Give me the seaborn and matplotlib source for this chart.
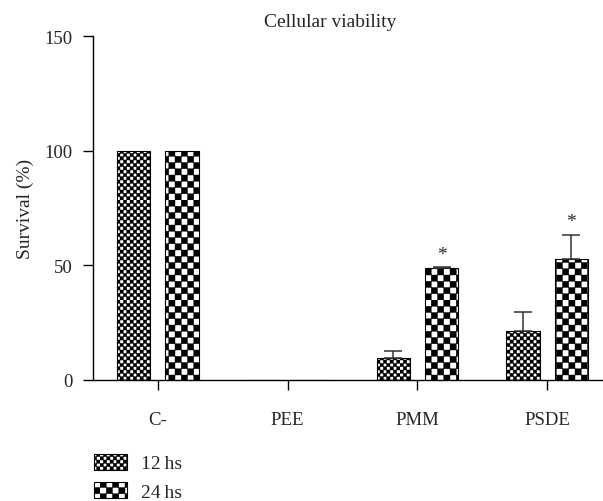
import warnings
warnings.filterwarnings("ignore")
import numpy as np
import pandas as pd
import matplotlib
matplotlib.use("Agg")
import matplotlib.pyplot as plt
import matplotlib.hatch as mhatch
from matplotlib.path import Path
import seaborn as sns

# ---- data ----
categories = ["C-", "PEE", "PMM", "PSDE"]
groups = ["12\u2009hs", "24\u2009hs"]
values_12 = [100, 0, 9.7, 21.5]
errors_12 = [0, 0, 2.9, 8.2]
values_24 = [100, 0, 48.8, 52.8]
errors_24 = [0, 0, 0.6, 10.6]
signif_24 = ["", "", "*", "*"]
y_ticks = [0, 50, 100, 150]
title = "Cellular viability"
ylabel = "Survival (%)"


# ---- custom checkerboard hatch ----
class CheckerHatch(mhatch.HatchPatternBase):
    def __init__(self, hatch, density):
        self.n = hatch.count("c") * 2
        self.num_vertices = (self.n * self.n // 2) * 5 if self.n else 0

    def set_vertices_and_codes(self, vertices, codes):
        n = self.n
        s = 1.0 / n
        k = 0
        for i in range(n):
            for j in range(n):
                if (i + j) % 2 == 0:
                    x0, y0 = i * s, j * s
                    vertices[k:k + 5] = [(x0, y0), (x0 + s, y0), (x0 + s, y0 + s),
                                         (x0, y0 + s), (x0, y0)]
                    codes[k] = Path.MOVETO
                    codes[k + 1:k + 4] = Path.LINETO
                    codes[k + 4] = Path.CLOSEPOLY
                    k += 5


mhatch._hatch_types.append(CheckerHatch)

sns.set_style("ticks")
plt.rcParams["font.family"] = ["Liberation Serif", "DejaVu Serif"]
plt.rcParams["hatch.linewidth"] = 0.3
plt.rcParams["hatch.color"] = "black"

df = pd.DataFrame({
    "cat": categories * 2,
    "grp": [groups[0]] * 4 + [groups[1]] * 4,
    "val": values_12 + values_24,
})

fig = plt.figure(figsize=(6.03, 5.02), dpi=100)
ax = fig.add_axes([93 / 603, 1 - 381 / 502, 1 - 93 / 603, (381 - 37) / 502])

sns.barplot(data=df, x="cat", y="val", hue="grp", order=categories,
            hue_order=groups, width=0.744, gap=0.31, errorbar=None,
            legend=False, ax=ax)

bar_containers = list(ax.containers)
hatches = ["c" * 15, "c" * 8]
errs = [errors_12, errors_24]
vals = [values_12, values_24]
for ci, cont in enumerate(bar_containers):
    for bi, p in enumerate(cont.patches):
        p.set_facecolor("white")
        p.set_edgecolor("black")
        p.set_linewidth(0.8)
        p.set_hatch(hatches[ci])
        xc = p.get_x() + p.get_width() / 2
        if errs[ci][bi] > 0:
            ax.errorbar([xc], [vals[ci][bi]], yerr=[[0], [errs[ci][bi]]],
                        fmt="none", ecolor="#333333", elinewidth=1.1,
                        capsize=6.5, capthick=1.1, zorder=1)
        if ci == 1 and signif_24[bi]:
            ax.text(xc, vals[ci][bi] + errs[ci][bi] + 5.5, signif_24[bi],
                    ha="center", va="center", fontsize=14)

ax.set_xlim(-0.5, 3.43)
ax.set_ylim(0, 150)
ax.set_yticks(y_ticks)
ax.set_xlabel("")
ax.set_ylabel(ylabel, fontsize=14, labelpad=7)
ax.tick_params(axis="both", labelsize=13.5, length=7, width=1, color="black")
ax.tick_params(axis="y", pad=8)
ax.tick_params(axis="x", pad=15)
sns.despine(ax=ax)
for s in ["left", "bottom"]:
    ax.spines[s].set_linewidth(1)
    ax.spines[s].set_color("black")

fig.text(330 / 603, 1 - 27 / 502, title, ha="center", va="baseline", fontsize=14)

handles = [bar_containers[0].patches[0], bar_containers[1].patches[0]]
fig.legend(handles, groups, loc="upper left", bbox_to_anchor=(94 / 603, 1 - 455 / 502),
           frameon=False, fontsize=14, handlelength=1.7, handleheight=0.85,
           handletextpad=0.7, labelspacing=0.5, borderpad=0, borderaxespad=0)

fig.savefig("out.png", dpi=100)
